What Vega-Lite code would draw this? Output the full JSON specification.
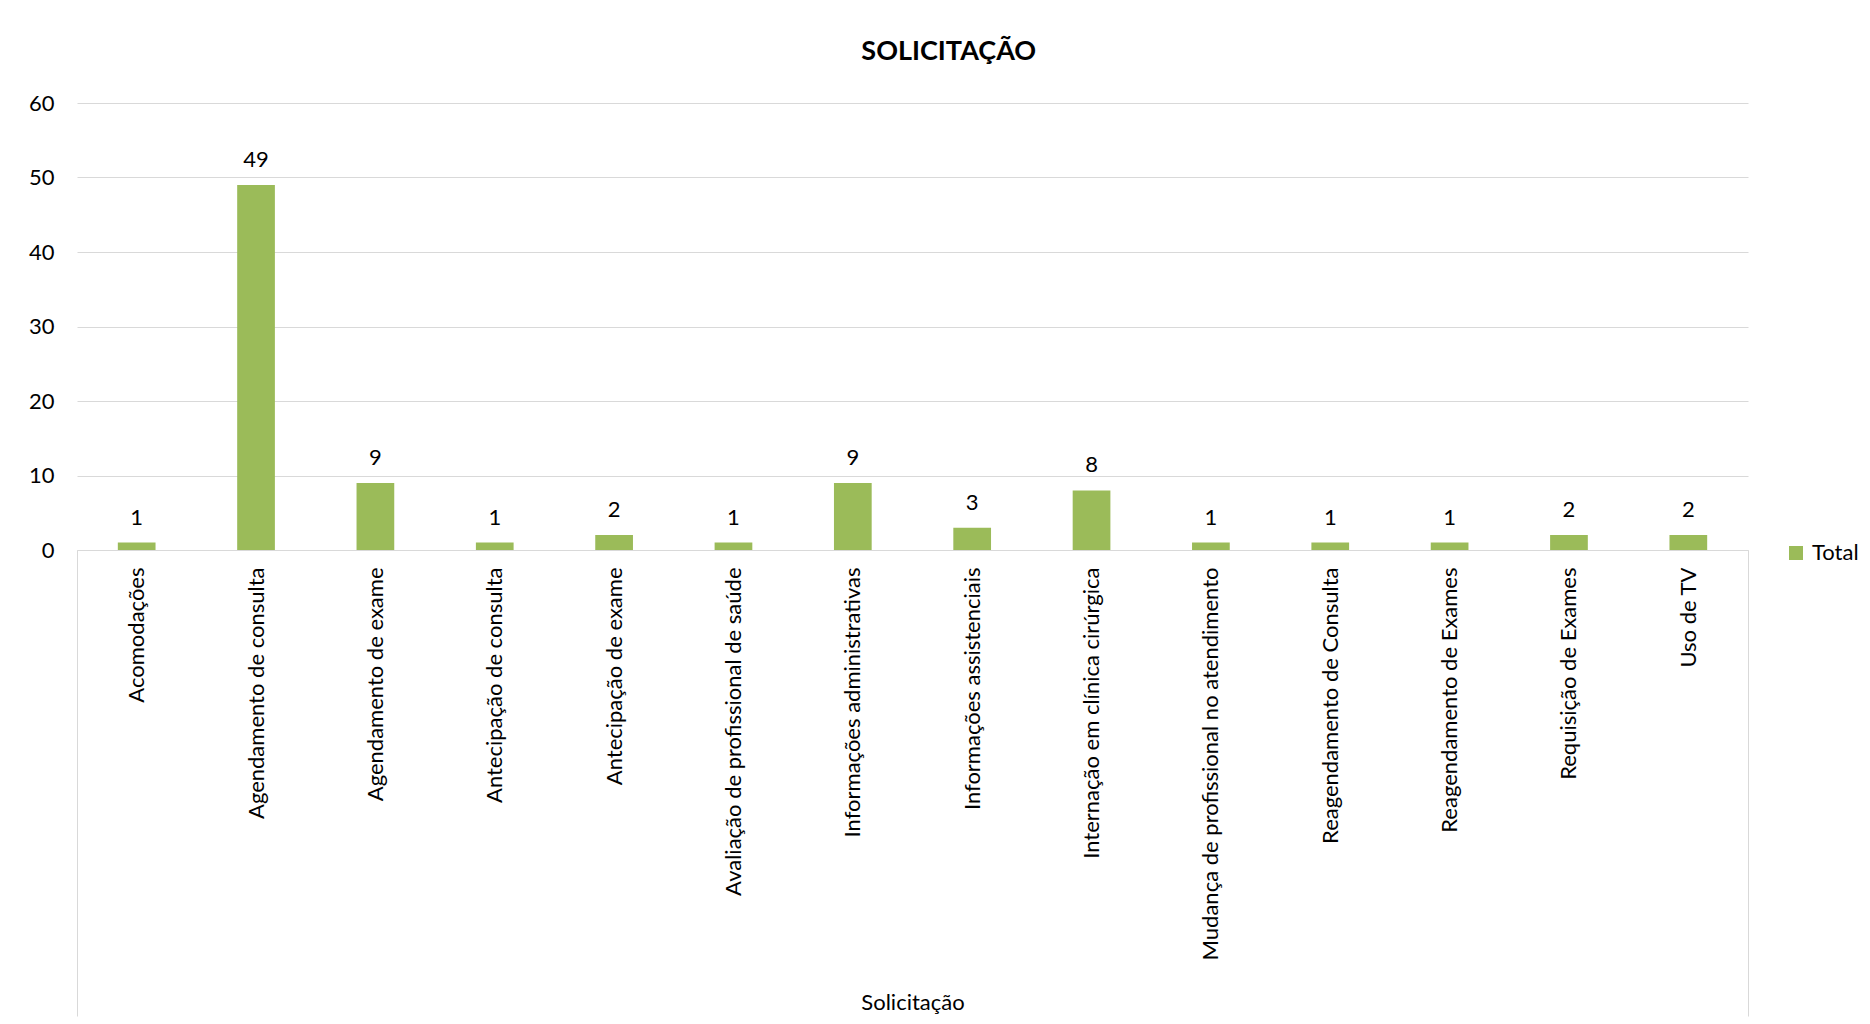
{
  "$schema": "https://vega.github.io/schema/vega-lite/v6.json",
  "width": 1671,
  "height": 447,
  "autosize": {"type": "none"},
  "padding": {"left": 77, "top": 103, "right": 122, "bottom": 474},
  "background": "white",
  "config": {"font": "Lato", "view": {"stroke": null}},
  "title": {"text": "SOLICITAÇÃO", "fontSize": 27, "fontWeight": "bold", "color": "black", "frame": "bounds", "anchor": "middle", "offset": 26, "dx": 5},
  "data": {"values": [
    {"Solicitação": "Acomodações", "Total": 1, "serie": "Total"},
    {"Solicitação": "Agendamento de consulta", "Total": 49, "serie": "Total"},
    {"Solicitação": "Agendamento de exame", "Total": 9, "serie": "Total"},
    {"Solicitação": "Antecipação de consulta", "Total": 1, "serie": "Total"},
    {"Solicitação": "Antecipação de exame", "Total": 2, "serie": "Total"},
    {"Solicitação": "Avaliação de profissional de saúde", "Total": 1, "serie": "Total"},
    {"Solicitação": "Informações administrativas", "Total": 9, "serie": "Total"},
    {"Solicitação": "Informações assistenciais", "Total": 3, "serie": "Total"},
    {"Solicitação": "Internação em clínica cirúrgica", "Total": 8, "serie": "Total"},
    {"Solicitação": "Mudança de profissional no atendimento", "Total": 1, "serie": "Total"},
    {"Solicitação": "Reagendamento de Consulta", "Total": 1, "serie": "Total"},
    {"Solicitação": "Reagendamento de Exames", "Total": 1, "serie": "Total"},
    {"Solicitação": "Requisição de Exames", "Total": 2, "serie": "Total"},
    {"Solicitação": "Uso de TV", "Total": 2, "serie": "Total"}
  ]},
  "layer": [
    {
      "mark": {"type": "bar", "width": {"band": 0.316}},
      "encoding": {
        "x": {
          "field": "Solicitação", "type": "nominal", "sort": null,
          "scale": {"paddingInner": 0, "paddingOuter": 0},
          "axis": {
            "title": "Solicitação", "titleFontSize": 22, "titleFontWeight": "normal", "titleColor": "black",
            "titleY": 459, "titleBaseline": "alphabetic",
            "labelAngle": -90, "labelFontSize": 22, "labelColor": "black", "labelLimit": 600,
            "labelPadding": -449,
            "tickBand": "extent", "tickSize": 466, "tickColor": "#d9d9d9", "tickWidth": 1,
            "tickOpacity": {"condition": {"test": "datum.value === 'Uso de TV' || datum.extra", "value": 1}, "value": 0},
            "domainColor": "#d9d9d9", "domainWidth": 1, "grid": false
          }
        },
        "y": {
          "field": "Total", "type": "quantitative",
          "scale": {"domain": [0, 60]},
          "axis": {
            "title": null, "values": [0, 10, 20, 30, 40, 50, 60], "grid": true, "gridColor": "#d9d9d9",
            "domain": false, "ticks": false, "labelPadding": 23, "labelFontSize": 22, "labelColor": "black"
          }
        },
        "color": {
          "field": "serie", "type": "nominal",
          "scale": {"range": ["#9BBB59"]},
          "legend": {
            "title": null, "orient": "none", "legendX": 1708, "legendY": 439,
            "symbolType": "square", "symbolSize": 196, "symbolStrokeWidth": 0,
            "labelFontSize": 22, "labelColor": "black", "labelOffset": 5
          }
        }
      }
    },
    {
      "mark": {"type": "text", "dy": -18, "baseline": "alphabetic", "fontSize": 22, "color": "black"},
      "encoding": {
        "x": {"field": "Solicitação", "type": "nominal", "sort": null},
        "y": {"field": "Total", "type": "quantitative"},
        "text": {"field": "Total", "type": "quantitative"}
      }
    }
  ]
}
